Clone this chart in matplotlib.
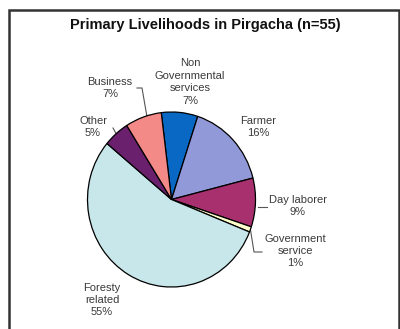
import numpy as np
import matplotlib
matplotlib.use("Agg")
import matplotlib.pyplot as plt
from matplotlib.patches import Rectangle

# data (clockwise from the top)
labels = ["Non\nGovernmental\nservices", "Farmer", "Day laborer", "Government\nservice",
          "Foresty\nrelated", "Other", "Business"]
shares = [7, 16, 9, 1, 55, 5, 7]
colors = ["#0868C4", "#9299D8", "#A8306E", "#FFFFCC", "#C8E7EB", "#6A206C", "#F48A88"]

W, H = 400, 329
fig = plt.figure(figsize=(W / 100, H / 100), dpi=100)
ax = fig.add_axes([0, 0, 1, 1])
ax.set_xlim(0, W)
ax.set_ylim(0, H)
ax.axis("off")

# pie on its own axes, slightly stretched vertically like the original
cx, cy = 171.5, H - 199.5
rx, ry = 84, 87.5
k = ry / rx
pax = fig.add_axes([0, 0, 1, 1])
start = 97
pax.pie(shares, colors=colors, startangle=start, counterclock=False,
        center=(cx, cy), radius=rx,
        wedgeprops=dict(edgecolor="black", linewidth=0.9))
pax.set_xlim(0, W)
pax.set_ylim(cy - cy / k, cy + (H - cy) / k)
pax.set_aspect("auto")
pax.axis("off")

font = "Liberation Sans"
tcol = "#3a3a3a"

# label positions in pixels (x, y from top)
pos = [(190, 82), (258, 127), (298, 206), (295, 251), (102, 300), (93, 127), (110, 88)]
for lab, s, (x, y) in zip(labels, shares, pos):
    ax.text(x, H - y, f"{lab}\n{s}%", ha="center", va="center", fontsize=8,
            family=font, color=tcol, linespacing=1.3)

def edge(i, frac=0.5):
    a0 = start - sum(shares[:i]) * 3.6
    a = np.deg2rad(a0 - shares[i] * 3.6 * frac)
    return cx + rx * np.cos(a), cy + ry * np.sin(a)

lc = "#555555"
# Business leader
ex, ey = edge(6, 0.6)
ax.plot([137, 142, ex], [H - 88, H - 88, ey], color=lc, lw=0.8)
# Other leader
ex, ey = edge(5)
ax.plot([113, ex], [H - 128, ey], color=lc, lw=0.8)
# Day laborer leader
ax.plot([258, 267], [H - 207, H - 207], color=lc, lw=0.8)
# Government service leader
ex, ey = edge(3)
ax.plot([ex, 254, 262], [ey, H - 252, H - 252], color=lc, lw=0.8)

ax.text(205, H - 25, "Primary Livelihoods in Pirgacha (n=55)", ha="center", va="center",
        fontsize=10.5, fontweight="bold", family=font, color="#111111")

# chart frame
fig.patches.append(Rectangle((8.5 / W, -0.05), (399 - 8.5) / W, 1.05 - 10 / H,
                             transform=fig.transFigure, fill=False,
                             edgecolor="#333333", linewidth=1.8))

fig.savefig("out.png", dpi=100)
